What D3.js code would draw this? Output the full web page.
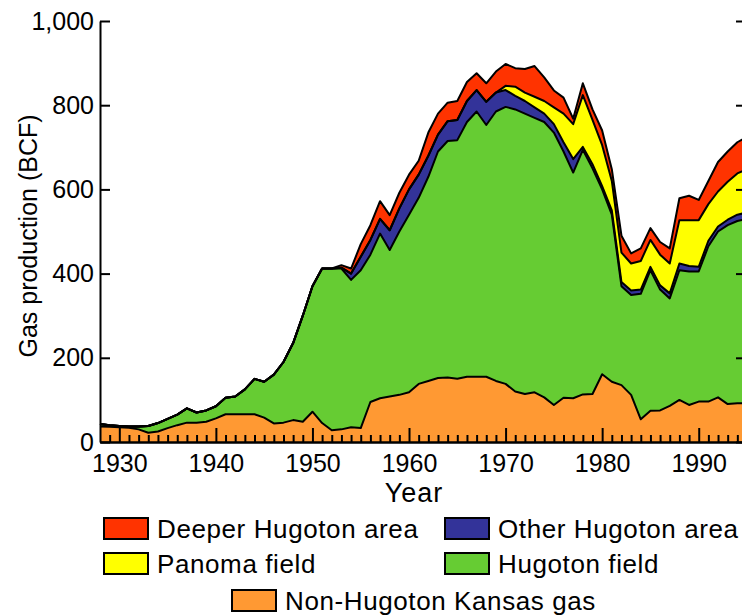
<!DOCTYPE html>
<html>
<head>
<meta charset="utf-8">
<script src="https://cdnjs.cloudflare.com/ajax/libs/d3/7.8.5/d3.min.js"></script>
<style>
  body { margin: 0; background: #fff; }
  svg text { font-family: "Liberation Sans", Arial, Helvetica, sans-serif; fill: #000; }
</style>
</head>
<body>
<div id="chart"></div>
<script>
// Data (BCF per year)
var years = d3.range(1928, 1996);

var nonHugoton = [37, 36, 35, 34, 30, 22, 25, 33, 40, 46, 46, 48, 56, 66, 66, 66, 66, 58, 44, 46,
  52, 48, 72, 45, 28, 30, 35, 33, 95, 104, 108, 112, 118, 138, 145, 152, 153, 150, 155, 155,
  155, 145, 138, 120, 114, 118, 106, 88, 105, 104, 113, 114, 161, 143, 135, 112, 54, 74, 75, 86,
  100, 88, 96, 96, 106, 90, 92, 92];

var hugotonField = [6, 4, 3, 3, 7, 16, 20, 22, 25, 34, 24, 27, 29, 39, 42, 59, 84, 85, 116, 144,
  183, 252, 298, 367, 384, 382, 350, 375, 350, 391, 348, 388, 422, 442, 485, 538, 562, 567, 605, 630,
  598, 640, 658, 670, 666, 652, 654, 647, 585, 536, 581, 536, 439, 397, 235, 237, 298, 334, 287, 255,
  308, 317, 309, 369, 394, 425, 433, 438];

var otherHugoton = [0, 0, 0, 0, 0, 0, 0, 0, 0, 0, 0, 0, 0, 0, 0, 0, 0, 0, 0, 0,
  0, 0, 0, 0, 0, 2, 15, 32, 35, 35, 47, 55, 60, 55, 50, 40, 47, 48, 50, 51,
  55, 45, 40, 32, 30, 25, 20, 20, 22, 32, 7, 10, 8, 10, 10, 11, 10, 8, 10, 12,
  16, 13, 11, 13, 12, 13, 15, 15];

var panoma = [0, 0, 0, 0, 0, 0, 0, 0, 0, 0, 0, 0, 0, 0, 0, 0, 0, 0, 0, 0,
  0, 0, 0, 0, 0, 0, 0, 0, 0, 0, 0, 0, 0, 0, 0, 0, 0, 0, 0, 0,
  0, 0, 10, 22, 20, 25, 30, 40, 68, 83, 123, 105, 97, 70, 70, 64, 68, 64, 73, 71,
  103, 109, 111, 87, 83, 90, 98, 103];

var deeperHugoton = [0, 0, 0, 0, 0, 0, 0, 0, 0, 0, 0, 0, 0, 0, 0, 0, 0, 0, 0, 0,
  0, 0, 0, 0, 0, 6, 12, 30, 35, 42, 36, 37, 35, 33, 55, 50, 44, 45, 45, 40,
  44, 50, 52, 44, 56, 73, 56, 40, 38, 13, 28, 25, 35, 28, 40, 24, 30, 28, 30, 36,
  52, 58, 48, 55, 70, 72, 74, 77];

var keys = ["nonHugoton", "hugotonField", "otherHugoton", "panoma", "deeperHugoton"];
var labels = {
  deeperHugoton: "Deeper Hugoton area",
  otherHugoton: "Other Hugoton area",
  panoma: "Panoma field",
  hugotonField: "Hugoton field",
  nonHugoton: "Non-Hugoton Kansas gas"
};
var colors = {
  nonHugoton: "#ff9933",
  hugotonField: "#66cc33",
  otherHugoton: "#333399",
  panoma: "#ffff00",
  deeperHugoton: "#ff3300"
};

var yTicks = [0, 200, 400, 600, 800, 1000];
var xTicks = [1930, 1940, 1950, 1960, 1970, 1980, 1990];

// table for d3.stack
var table = years.map(function(yr, i) {
  return {
    year: yr,
    nonHugoton: nonHugoton[i],
    hugotonField: hugotonField[i],
    otherHugoton: otherHugoton[i],
    panoma: panoma[i],
    deeperHugoton: deeperHugoton[i]
  };
});

// Dimensions
var W = 742, H = 615;
var plot = {left: 100, right: 747, top: 21, bottom: 442};

var svg = d3.select("#chart").append("svg")
  .attr("width", W)
  .attr("height", H);

var x = d3.scaleLinear().domain([1928, 1995]).range([plot.left, plot.right]);
var y = d3.scaleLinear().domain([0, 1000]).range([plot.bottom, plot.top]);

var series = d3.stack().keys(keys)(table);

var area = d3.area()
  .x(function(d) { return x(d.data.year); })
  .y0(function(d) { return y(d[0]); })
  .y1(function(d) { return y(d[1]); });

var topLine = d3.line()
  .x(function(d) { return x(d.data.year); })
  .y(function(d) { return y(d[1]); });

var g = svg.append("g");

g.selectAll(".layer")
  .data(series).enter().append("path")
  .attr("class", "layer")
  .attr("d", area)
  .attr("fill", function(s) { return colors[s.key]; });

// black edge on top of every layer
g.selectAll(".edge")
  .data(series).enter().append("path")
  .attr("class", "edge")
  .attr("d", topLine)
  .attr("fill", "none")
  .attr("stroke", "#000")
  .attr("stroke-width", 2)
  .attr("stroke-linejoin", "round");

// Axes
var yAxis = d3.axisLeft(y)
  .tickValues(yTicks)
  .tickFormat(d3.format(","))
  .tickSize(-10)
  .tickSizeOuter(0)
  .tickPadding(6);

svg.append("g")
  .attr("transform", "translate(" + plot.left + ",0)")
  .call(yAxis);

var yRight = d3.axisRight(y)
  .tickValues(yTicks)
  .tickFormat("")
  .tickSize(-11)
  .tickSizeOuter(0);

svg.append("g")
  .attr("transform", "translate(" + plot.right + ",0)")
  .call(yRight);

var minorYears = years.filter(function(v) { return v % 10 !== 0 && v > 1928 && v < 1995; });

svg.append("g")
  .attr("transform", "translate(0," + plot.bottom + ")")
  .call(d3.axisBottom(x).tickValues(minorYears).tickFormat("").tickSize(-7).tickSizeOuter(0));

svg.append("g")
  .attr("transform", "translate(0," + plot.bottom + ")")
  .call(d3.axisBottom(x)
    .tickValues(xTicks)
    .tickFormat(d3.format("d"))
    .tickSize(-14)
    .tickSizeOuter(0)
    .tickPadding(12));

svg.selectAll(".domain").attr("stroke", "#000").attr("stroke-width", 2);
svg.selectAll(".tick line").attr("stroke", "#000").attr("stroke-width", 2);
svg.selectAll(".tick text").style("font-size", "25px").attr("fill", "#000");

// Axis titles
svg.append("text")
  .attr("transform", "translate(37,236) rotate(-90)")
  .attr("text-anchor", "middle")
  .style("font-size", "25px")
  .text("Gas production (BCF)");

svg.append("text")
  .attr("x", 414)
  .attr("y", 502)
  .attr("text-anchor", "middle")
  .style("font-size", "27px")
  .style("letter-spacing", "1px")
  .text("Year");

// Legend
var legendItems = [
  {key: "deeperHugoton", x: 104, y: 518},
  {key: "otherHugoton", x: 445, y: 518},
  {key: "panoma", x: 104, y: 553},
  {key: "hugotonField", x: 445, y: 553},
  {key: "nonHugoton", x: 232, y: 590}
];

var leg = svg.selectAll(".legend")
  .data(legendItems).enter().append("g")
  .attr("class", "legend")
  .attr("transform", function(d) { return "translate(" + d.x + "," + d.y + ")"; });

leg.append("rect")
  .attr("width", 44)
  .attr("height", 21)
  .attr("fill", function(d) { return colors[d.key]; })
  .attr("stroke", "#000")
  .attr("stroke-width", 2);

leg.append("text")
  .attr("x", 53)
  .attr("y", 20)
  .style("font-size", "26px")
  .style("letter-spacing", "0.6px")
  .text(function(d) { return labels[d.key]; });
</script>
</body>
</html>
